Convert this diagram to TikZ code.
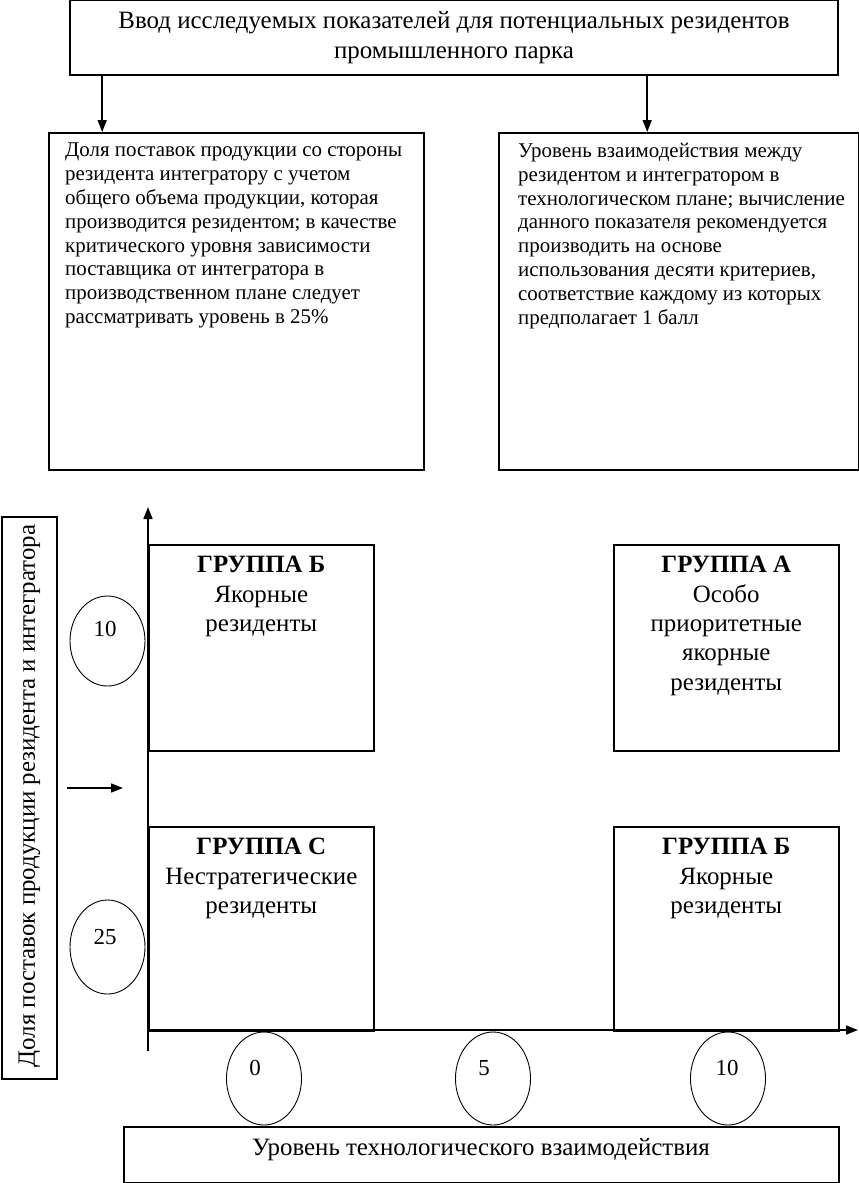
\documentclass[tikz,border=0pt]{standalone}
\usepackage{fontspec}
\setmainfont{Liberation Serif}
\usetikzlibrary{arrows.meta,shapes.geometric}
\begin{document}
\begin{tikzpicture}[x=1bp,y=-1bp,
  frame/.style={draw, line width=1.6bp, rectangle, inner sep=0pt},
  oval/.style={draw, line width=0.9bp, ellipse, inner sep=0pt, minimum width=75bp, minimum height=92bp},
  arr/.style={line width=1.6bp, -{Triangle[length=12bp,width=9bp]}},
  small/.style={font=\fontsize{21}{23.9}\selectfont, align=left, inner sep=0pt, anchor=north west},
  big/.style={font=\fontsize{25}{29.5}\selectfont, align=center, inner sep=0pt},
  num/.style={font=\fontsize{23}{26}\selectfont, inner sep=0pt}
]
\useasboundingbox (0,0) rectangle (859,1183);

% top box
\node[frame, minimum width=768bp, minimum height=75bp] (top) at (454,37.5) {};
\node[big] (toptext) at (454,37.5) {Ввод исследуемых показателей для потенциальных резидентов\\промышленного парка};

% two description boxes
\node[frame, minimum width=375bp, minimum height=337bp, anchor=north west] (lb) at (48,132) {};
\node[small] (lbtext) at (65,143) {Доля поставок продукции со стороны\\резидента интегратору с учетом\\общего объема продукции, которая\\производится резидентом; в качестве\\критического уровня зависимости\\поставщика от интегратора в\\производственном плане следует\\рассматривать уровень в 25\%};
\node[frame, minimum width=360bp, minimum height=337bp, anchor=north west] (rb) at (498,132) {};
\node[small] (rbtext) at (518,143) {Уровень взаимодействия между\\резидентом и интегратором в\\технологическом плане; вычисление\\данного показателя рекомендуется\\производить на основе\\использования десяти критериев,\\соответствие каждому из которых\\предполагает 1 балл};

\draw[arr] ([xshift=33bp]top.south west) -- ([xshift=33bp]top.south west |- lb.north);
\draw[arr] ([xshift=578bp]top.south west) -- ([xshift=578bp]top.south west |- rb.north);

% axes
\coordinate (O) at (148,1030);
\coordinate (ybot) at (148,1051);
\coordinate (ytop) at (148,507);
\coordinate (xend) at (858,1030);
\draw[arr] (ybot) -- (ytop);
\draw[arr] (O) -- (xend);

% vertical label box
\node[frame, minimum width=55bp, minimum height=562bp] (ylab) at (29.5,798) {};
\node[big, rotate=90] (ylabtext) at (29.5,796) {Доля поставок продукции резидента и интегратора};

% small arrow
\coordinate (sa1) at (67,788);
\coordinate (sa2) at (123,788);
\draw[arr] (sa1) -- (sa2);

% group boxes
\node[frame, minimum width=225bp, minimum height=206bp, anchor=north west] (gB1) at (148,544) {};
\node[big, anchor=north] (gB1t) at ([yshift=-12bp]gB1.north) {\textbf{ГРУППА Б}\\Якорные\\резиденты};
\node[frame, minimum width=225bp, minimum height=206bp, anchor=north west] (gA) at (613,544) {};
\node[big, anchor=north] (gAt) at ([yshift=-12bp]gA.north) {\textbf{ГРУППА А}\\Особо\\приоритетные\\якорные\\резиденты};
\node[frame, minimum width=225bp, minimum height=204bp, anchor=north west] (gC) at (148,826) {};
\node[big, anchor=north] (gCt) at ([yshift=-12bp]gC.north) {\textbf{ГРУППА С}\\Нестратегические\\резиденты};
\node[frame, minimum width=225bp, minimum height=204bp, anchor=north west] (gB2) at (613,826) {};
\node[big, anchor=north] (gB2t) at ([yshift=-12bp]gB2.north) {\textbf{ГРУППА Б}\\Якорные\\резиденты};

% ellipses on y axis
\node[oval, minimum height=90bp] (e10) at (107.5,641) {};
\node[num] (e10t) at (105,629) {10};
\node[oval, minimum height=94bp] (e25) at (107.5,947) {};
\node[num] (e25t) at (105,937) {25};

% ellipses on x axis
\node[oval, minimum height=93bp] (x0) at (264,1078.5) {};
\node[num] (x0t) at (255,1068) {0};
\node[oval, minimum height=93bp] (x5) at (493,1078.5) {};
\node[num] (x5t) at (484,1068) {5};
\node[oval, minimum height=93bp] (x10) at (728,1078.5) {};
\node[num] (x10t) at (727,1068) {10};

% bottom box
\node[frame, minimum width=715bp, minimum height=56bp, anchor=north west] (xlab) at (123,1126) {};
\node[big] (xlabt) at (481,1150) {Уровень технологического взаимодействия};
\end{tikzpicture}
\end{document}
